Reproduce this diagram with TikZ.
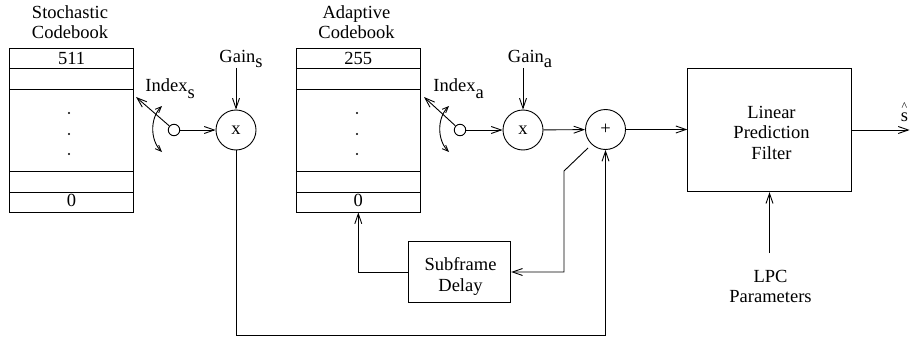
\documentclass[tikz,border=0pt]{standalone}
\usepackage{fontspec}
\setmainfont{Liberation Serif}
\usetikzlibrary{arrows.meta,calc}
\begin{document}
\begin{tikzpicture}[x=1pt,y=-1pt,line width=0.9pt,
  >={Straight Barb[length=10pt,width=7pt]},
  every node/.style={font=\fontsize{18.5}{20.5}\selectfont,inner sep=0pt},
  lbl/.style={anchor=base,align=center},
  lblw/.style={anchor=base west},
  mult/.style={draw,circle,minimum size=40pt},
  pivot/.style={draw,circle,minimum size=11.5pt},
  codebook/.style={draw,rectangle,minimum width=124pt,minimum height=164pt},
  blk/.style={draw,rectangle},
  rot/.style={{Straight Barb[length=6pt,width=5pt]}-{Straight Barb[length=6pt,width=5pt]}},
  dot/.style={fill,circle,minimum size=2.4pt}]
\useasboundingbox (0,0) rectangle (910,337);

% ---- stochastic codebook ----
\node[lbl] at (70,39) {Stochastic\\Codebook};
\node[codebook] (scb) at (71.6,130) {};
\foreach \yy in {68.3,89.3,171.7,192.3}
  \draw (scb.west |- 0,\yy) -- (scb.east |- 0,\yy);
\node[lbl] at (71.6,65) {511};
\node[lbl] at (71.6,206.7) {0};
\foreach \yy in {113,134,154} \node[dot] at (69,\yy) {};

% ---- adaptive codebook ----
\node[lbl] at (356.5,39) {Adaptive\\Codebook};
\node[codebook] (acb) at (358.3,130) {};
\foreach \yy in {68.3,89.3,171.7,192.3}
  \draw (acb.west |- 0,\yy) -- (acb.east |- 0,\yy);
\node[lbl] at (358.3,64.5) {255};
\node[lbl] at (358.3,206.7) {0};
\foreach \yy in {113,134,154} \node[dot] at (357,\yy) {};

% ---- stochastic selector and gain ----
\node[pivot] (ps) at (174,130) {};
\coordinate (ts) at (136,97);
\draw[->] (ps) -- (ts);
\draw[rot] (162,106) .. controls (150,118) and (150,140) .. (162,152);
\node[lblw] at (145,91) {Index\raisebox{-7pt}{s}};
\node[mult] (xs) at (236,130) {x};
\coordinate (gs) at (236,68);
\node[lblw] at (219,63) {Gain\raisebox{-5pt}{s}};
\draw[->] (gs) -- (xs);
\draw[->] (ps) -- (xs);

% ---- adaptive selector and gain ----
\node[pivot] (pa) at (460,130) {};
\coordinate (ta) at (424,97);
\draw[->] (pa) -- (ta);
\draw[rot] (449,106) .. controls (437,118) and (437,140) .. (449,152);
\node[lblw] at (433,91) {Index\raisebox{-7pt}{a}};
\node[mult] (xa) at (523,130) {x};
\coordinate (ga) at (523,68);
\node[lblw] at (507.5,63) {Gain\raisebox{-5pt}{a}};
\draw[->] (ga) -- (xa);
\draw[->] (pa) -- (xa);

% ---- summation ----
\node[mult] (pl) at (605.5,129.5) {+};
\draw[->] (xa) -- (pl);
\coordinate (bot) at (236,335);
\draw[->] (xs) -- (bot) -| (pl);

% ---- synthesis filter ----
\node[blk,minimum width=164pt,minimum height=123pt] (lpf) at (769.7,130.2) {};
\node[lbl] at (771.5,159) {Linear\\Prediction\\Filter};
\draw[->] (pl) -- (lpf.west |- pl);
\coordinate (out) at (909.6,130);
\draw[->] (lpf.east |- out) -- (out);
\node[lbl] at (904.5,121.7)
  {\ooalign{s\cr\hidewidth\raisebox{10.9pt}{\fontsize{12}{12}\selectfont\textasciicircum}\hidewidth\cr}};
\coordinate (lpcin) at (769.5,253);
\draw[->] (lpcin) -- (lpf.south -| lpcin);
\node[lbl] at (770.5,302.7) {LPC\\Parameters};

% ---- pitch feedback loop ----
\node[blk,minimum width=102.7pt,minimum height=61.7pt] (sd) at (459.4,272) {};
\node[lbl] at (460.5,291) {Subframe\\Delay};
\coordinate (fb) at (564,171);
\draw[->] ([shift={(-3,4)}]pl.225) -- (fb) |- (sd.east);
\draw[->] (sd.west) -| (acb.south);
\end{tikzpicture}
\end{document}
